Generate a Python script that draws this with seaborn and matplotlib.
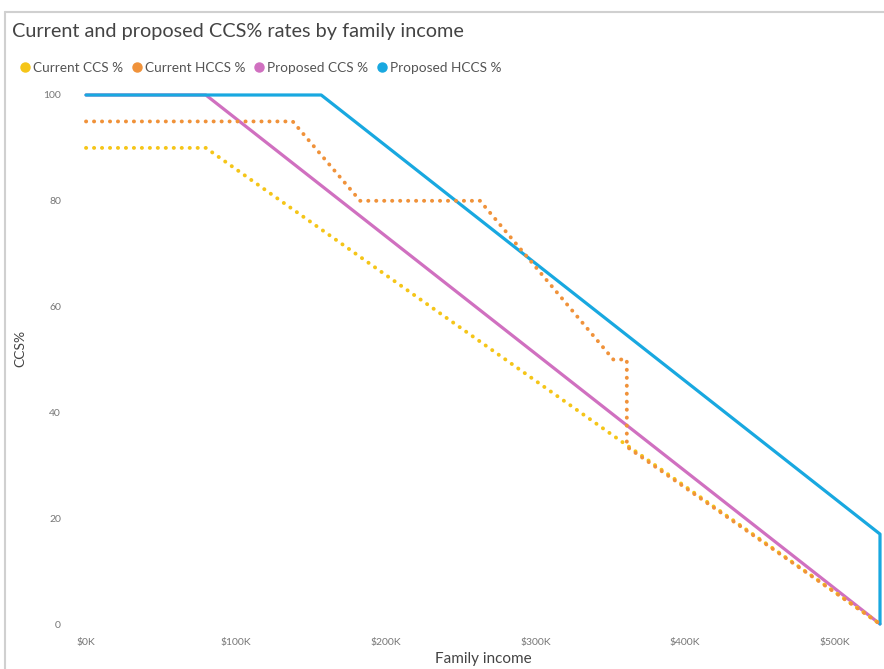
import pandas as pd
import seaborn as sns
import matplotlib.pyplot as plt
from matplotlib.lines import Line2D

# Income breakpoints ($K) and CCS% for each scheme
cur_ccs_x = [0, 80, 530]
cur_ccs_y = [90, 90, 0]

cur_hccs_x = [0, 138, 183, 263, 352, 361, 361, 530]
cur_hccs_y = [95, 95, 80, 80, 50, 50, 33.5, 0]

prop_ccs_x = [0, 80, 530]
prop_ccs_y = [100, 100, 0]

prop_hccs_x = [0, 157, 530, 530]
prop_hccs_y = [100, 100, 17, 0]

series_names = ["Current CCS %", "Current HCCS %", "Proposed CCS %", "Proposed HCCS %"]
colors = ["#F5C518", "#F0923A", "#D070C0", "#18A8E0"]

x_ticks = [0, 100, 200, 300, 400, 500]
x_labels = ["$0K", "$100K", "$200K", "$300K", "$400K", "$500K"]
y_ticks = [0, 20, 40, 60, 80, 100]

sns.set_style("white")
plt.rcParams["font.family"] = ["Lato", "DejaVu Sans"]

fig = plt.figure(figsize=(8.84, 6.69), dpi=100)
ax = fig.add_axes([86 / 884, 1 - 624 / 669, (880 - 86) / 884, (624 - 95) / 669])

all_x = [cur_ccs_x, cur_hccs_x, prop_ccs_x, prop_hccs_x]
all_y = [cur_ccs_y, cur_hccs_y, prop_ccs_y, prop_hccs_y]
dotted = [True, True, False, False]

# draw order: pink under blue, dotted ones on top
for i in [2, 3, 0, 1]:
    df = pd.DataFrame({"income": all_x[i], "rate": all_y[i]})
    kw = dict(linestyle=(0, (0.05, 2.0)), dash_capstyle="round", linewidth=2.8) if dotted[i] \
        else dict(linestyle="-", linewidth=2.3)
    sns.lineplot(data=df, x="income", y="rate", sort=False, estimator=None,
                 color=colors[i], ax=ax, clip_on=False, **kw)

ax.set_xlim(0, 530)
ax.set_ylim(0, 100)
ax.set_xticks(x_ticks)
ax.set_xticklabels(x_labels)
ax.set_yticks(y_ticks)
ax.tick_params(axis="both", length=0, labelsize=7.5, labelcolor="#777777")
ax.tick_params(axis="y", pad=18)
ax.tick_params(axis="x", pad=10)
for s in ax.spines.values():
    s.set_visible(False)

ax.set_xlabel("Family income", fontsize=11, color="#444444", labelpad=4)
ax.set_ylabel("CCS%", fontsize=10, color="#444444")
ax.yaxis.set_label_coords(-0.075, 0.52)

fig.text(12 / 884, 1 - 32 / 669, "Current and proposed CCS% rates by family income",
         fontsize=14.3, color="#444444", va="center")

handles = [Line2D([], [], marker="o", linestyle="", markersize=6.5, color=c) for c in colors]
fig.legend(handles, series_names, loc="center left", bbox_to_anchor=(6 / 884, 1 - 68 / 669),
           ncol=4, frameon=False, fontsize=9.8, handletextpad=0.1, columnspacing=0.5,
           handlelength=1.0, labelcolor="#555555")

# frame of the visual
fig.add_artist(Line2D([5 / 884, 1], [1 - 12 / 669, 1 - 12 / 669], color="#d0d0d0", linewidth=1.5))
fig.add_artist(Line2D([5 / 884, 5 / 884], [0, 1 - 12 / 669], color="#d0d0d0", linewidth=1.5))

fig.savefig("out.png", dpi=100)
